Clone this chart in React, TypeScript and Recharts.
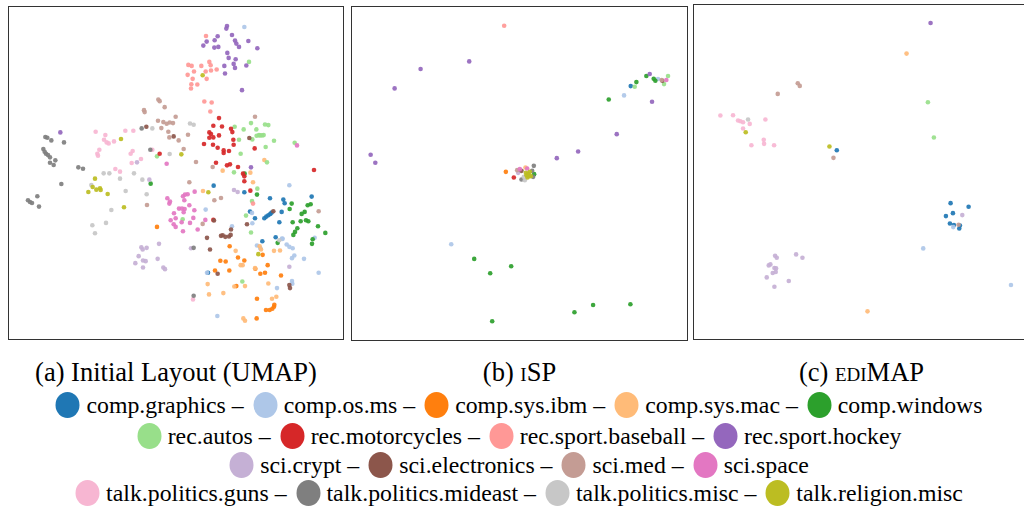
import { ScatterChart, Scatter, XAxis, YAxis } from "recharts"

// newsgroup categories, in legend order
const categories = [
  "comp.graphics", "comp.os.ms", "comp.sys.ibm", "comp.sys.mac", "comp.windows",
  "rec.autos", "rec.motorcycles", "rec.sport.baseball", "rec.sport.hockey",
  "sci.crypt", "sci.electronics", "sci.med", "sci.space",
  "talk.politics.guns", "talk.politics.mideast", "talk.politics.misc", "talk.religion.misc",
]

// tab20-style palette, one per category
const colors = [
  "#1f77b4", "#aec7e8", "#ff7f0e", "#ffbb78", "#2ca02c",
  "#98df8a", "#d62728", "#ff9896", "#9467bd",
  "#c5b0d5", "#8c564b", "#c49c94", "#e377c2",
  "#f7b6d2", "#7f7f7f", "#c7c7c7", "#bcbd22",
]

// legend rows (category indices)
const legendRows = [[0, 1, 2, 3, 4], [5, 6, 7, 8], [9, 10, 11, 12], [13, 14, 15, 16]]

type Pt = [number, number, number] // [category, x, y]

// (a) initial UMAP embedding
const umapPoints: Pt[] = [
  [0, 641, 558], [0, 733, 578], [0, 810, 596], [0, 850, 600], [0, 854, 611], [0, 935, 591], [0, 845, 637],
  [0, 765, 656], [0, 750, 636], [0, 793, 656], [0, 799, 651], [0, 805, 647], [0, 811, 643], [0, 815, 639],
  [0, 838, 668], [0, 787, 725], [0, 827, 713], [0, 624, 820],
  [1, 733, 81], [1, 868, 557], [1, 617, 630], [1, 756, 640], [1, 757, 671], [1, 696, 680], [1, 771, 738],
  [1, 781, 746], [1, 848, 718], [1, 860, 735], [1, 868, 742], [1, 878, 746], [1, 883, 768], [1, 876, 776],
  [1, 912, 778], [1, 944, 715], [1, 956, 820], [1, 831, 866], [1, 876, 845], [1, 877, 853], [1, 621, 820],
  [1, 652, 950], [1, 846, 717],
  [2, 471, 682], [2, 689, 740], [2, 714, 774], [2, 733, 783], [2, 661, 784], [2, 677, 786], [2, 688, 813],
  [2, 645, 813], [2, 766, 808], [2, 795, 820], [2, 781, 823], [2, 803, 797], [2, 843, 828], [2, 709, 860],
  [2, 771, 898], [2, 823, 916], [2, 822, 922], [2, 817, 928], [2, 798, 932], [2, 809, 932], [2, 770, 957],
  [2, 788, 766],
  [3, 793, 481], [3, 668, 513], [3, 751, 519], [3, 759, 548], [3, 609, 574], [3, 779, 740], [3, 783, 750],
  [3, 707, 754], [3, 822, 754], [3, 840, 753], [3, 722, 797], [3, 728, 797], [3, 765, 806], [3, 805, 852],
  [3, 623, 854], [3, 703, 861], [3, 735, 860], [3, 627, 885], [3, 670, 881], [3, 816, 898], [3, 829, 892],
  [3, 730, 957], [3, 735, 964],
  [4, 452, 552], [4, 771, 585], [4, 734, 522], [4, 875, 612], [4, 869, 628], [4, 923, 617], [4, 932, 614],
  [4, 914, 637], [4, 905, 643], [4, 878, 668], [4, 902, 665], [4, 918, 662], [4, 925, 665], [4, 892, 686],
  [4, 885, 697], [4, 880, 706], [4, 954, 680], [4, 976, 700], [4, 938, 719], [4, 936, 733], [4, 833, 730],
  [5, 747, 186], [5, 704, 381], [5, 731, 389], [5, 753, 370], [5, 769, 389], [5, 795, 374], [5, 805, 376],
  [5, 770, 408], [5, 777, 406], [5, 780, 407], [5, 786, 407], [5, 791, 406], [5, 757, 419], [5, 717, 420],
  [5, 822, 423], [5, 884, 429], [5, 797, 442], [5, 722, 462], [5, 801, 488], [5, 702, 518], [5, 772, 567],
  [5, 756, 604], [5, 738, 648], [5, 753, 699], [5, 727, 846], [5, 471, 470], [5, 548, 659],
  [6, 657, 355], [6, 640, 378], [6, 666, 380], [6, 693, 387], [6, 697, 397], [6, 628, 398], [6, 633, 403],
  [6, 628, 414], [6, 640, 413], [6, 657, 407], [6, 612, 433], [6, 639, 435], [6, 653, 444], [6, 671, 452],
  [6, 671, 460], [6, 687, 454], [6, 700, 420], [6, 701, 435], [6, 764, 446], [6, 648, 489], [6, 681, 497],
  [6, 690, 494], [6, 714, 502], [6, 729, 522], [6, 733, 530], [6, 733, 545], [6, 751, 573], [6, 942, 511],
  [6, 479, 462], [6, 640, 661],
  [7, 618, 108], [7, 628, 186], [7, 632, 196], [7, 633, 212], [7, 565, 195], [7, 575, 198], [7, 604, 198],
  [7, 582, 215], [7, 617, 215], [7, 650, 209], [7, 563, 225], [7, 578, 237], [7, 620, 237], [7, 574, 253],
  [7, 592, 254], [7, 573, 266], [7, 613, 305], [7, 635, 308], [7, 631, 335], [7, 759, 612],
  [8, 681, 78], [8, 679, 86], [8, 696, 105], [8, 653, 109], [8, 644, 121], [8, 620, 125], [8, 610, 137],
  [8, 643, 143], [8, 655, 141], [8, 705, 122], [8, 709, 131], [8, 717, 141], [8, 745, 123], [8, 772, 145],
  [8, 682, 159], [8, 686, 174], [8, 707, 178], [8, 701, 192], [8, 705, 204], [8, 673, 198], [8, 675, 221],
  [8, 739, 197], [8, 726, 271], [8, 753, 503], [8, 181, 398],
  [9, 411, 488], [9, 448, 540], [9, 424, 743], [9, 428, 750], [9, 440, 745], [9, 477, 733], [9, 416, 770],
  [9, 429, 783], [9, 437, 785], [9, 406, 791], [9, 429, 804], [9, 473, 778], [9, 490, 804], [9, 495, 809],
  [9, 702, 571], [9, 713, 577], [9, 573, 746], [9, 868, 802],
  [10, 439, 381], [10, 521, 410], [10, 748, 415], [10, 642, 663], [10, 621, 715], [10, 630, 750],
  [10, 663, 709], [10, 668, 707], [10, 676, 712], [10, 687, 711], [10, 692, 706], [10, 693, 690],
  [10, 653, 823], [10, 868, 857], [10, 870, 866], [10, 820, 635], [10, 741, 674],
  [11, 475, 299], [11, 479, 304], [11, 494, 322], [11, 432, 331], [11, 434, 337], [11, 474, 363],
  [11, 490, 367], [11, 500, 372], [11, 509, 368], [11, 519, 370], [11, 527, 351], [11, 484, 385],
  [11, 505, 396], [11, 508, 413], [11, 536, 422], [11, 564, 405], [11, 551, 448], [11, 588, 487],
  [11, 638, 502], [11, 765, 351], [11, 568, 548], [11, 643, 602], [11, 663, 595], [11, 441, 616],
  [11, 956, 635], [11, 608, 673],
  [12, 502, 596], [12, 510, 606], [12, 508, 612], [12, 522, 641], [12, 527, 656], [12, 512, 662],
  [12, 521, 674], [12, 527, 682], [12, 549, 590], [12, 555, 585], [12, 563, 584], [12, 553, 602],
  [12, 584, 576], [12, 537, 627], [12, 546, 627], [12, 554, 628], [12, 568, 617], [12, 551, 638],
  [12, 583, 632], [12, 545, 668], [12, 580, 655], [12, 593, 690], [12, 549, 695], [12, 570, 670],
  [12, 500, 492], [12, 891, 437], [12, 616, 661],
  [13, 287, 396], [13, 316, 406], [13, 312, 420], [13, 320, 428], [13, 326, 431], [13, 342, 425],
  [13, 376, 393], [13, 400, 393], [13, 298, 450], [13, 292, 462], [13, 294, 468], [13, 398, 454],
  [13, 392, 462], [13, 423, 478], [13, 395, 490], [13, 346, 508], [13, 360, 516], [13, 457, 450],
  [13, 579, 900],
  [14, 136, 412], [14, 142, 414], [14, 154, 422], [14, 192, 428], [14, 130, 448], [14, 134, 456],
  [14, 138, 462], [14, 144, 466], [14, 150, 473], [14, 166, 482], [14, 150, 489], [14, 161, 496],
  [14, 235, 503], [14, 249, 507], [14, 184, 553], [14, 84, 602], [14, 90, 607], [14, 96, 610],
  [14, 112, 590], [14, 117, 621], [14, 425, 386], [14, 451, 450], [14, 581, 745], [14, 581, 889],
  [15, 457, 386], [15, 509, 463], [15, 570, 371], [15, 581, 375], [15, 311, 521], [15, 328, 521],
  [15, 360, 537], [15, 402, 521], [15, 427, 540], [15, 274, 556], [15, 377, 574], [15, 440, 584],
  [15, 334, 631], [15, 318, 670], [15, 277, 677], [15, 285, 701], [15, 838, 722],
  [16, 363, 418], [16, 608, 226], [16, 544, 464], [16, 285, 537], [16, 278, 562], [16, 289, 570],
  [16, 300, 566], [16, 302, 571], [16, 265, 577], [16, 323, 583], [16, 372, 623], [16, 625, 578],
  [16, 775, 764],
]

// (b) iSP layout
const ispPoints: Pt[] = [
  [7, 478, 77],
  [8, 373, 184], [8, 227, 207], [8, 149, 265], [8, 77, 464], [8, 91, 488], [8, 636, 474], [8, 700, 454],
  [8, 816, 402], [8, 922, 305], [8, 915, 222],
  [4, 792, 298], [4, 875, 246], [4, 905, 228], [4, 927, 236], [4, 932, 242], [4, 388, 776], [4, 436, 819],
  [4, 499, 798], [4, 442, 963], [4, 689, 936], [4, 745, 914], [4, 857, 912], [4, 568, 522],
  [0, 858, 258],
  [5, 870, 260], [5, 970, 228], [5, 958, 252],
  [1, 838, 286], [1, 940, 237], [1, 319, 732],
  [11, 951, 240], [11, 517, 510],
  [10, 953, 242], [10, 530, 512],
  [12, 965, 240], [12, 525, 507], [12, 547, 505],
  [2, 483, 515],
  [6, 507, 532],
  [9, 520, 518],
  [3, 542, 502],
  [14, 567, 497], [14, 562, 512], [14, 530, 538], [14, 565, 530],
  [15, 540, 540], [15, 537, 530],
  [16, 545, 525], [16, 550, 520], [16, 555, 515], [16, 548, 532], [16, 558, 528], [16, 543, 518],
  [16, 552, 528],
]

// (c) EDIMAP layout
const edimapPoints: Pt[] = [
  [8, 722, 70],
  [3, 650, 162], [3, 533, 936],
  [11, 324, 251], [11, 330, 259], [11, 264, 283], [11, 431, 475], [11, 806, 676],
  [5, 714, 308], [5, 732, 414],
  [13, 92, 348], [13, 130, 347], [13, 145, 363], [13, 152, 365], [13, 160, 368], [13, 180, 373],
  [13, 160, 387], [13, 227, 360], [13, 222, 421], [13, 223, 433], [13, 185, 437], [13, 253, 437],
  [15, 175, 360],
  [16, 168, 398], [16, 419, 441],
  [0, 441, 452], [0, 782, 611], [0, 836, 622], [0, 789, 641], [0, 768, 650], [0, 780, 672], [0, 792, 677],
  [0, 808, 687], [0, 810, 678],
  [9, 817, 647], [9, 256, 769], [9, 261, 775], [9, 319, 765], [9, 338, 775], [9, 237, 798], [9, 242, 795],
  [9, 254, 806], [9, 259, 807], [9, 249, 821], [9, 258, 818], [9, 231, 834], [9, 297, 845], [9, 254, 862],
  [1, 790, 683], [1, 700, 747], [1, 963, 857],
]

const FONT = '"Liberation Serif", "Times New Roman", Times, serif'

type PanelProps = {
  points: Pt[]
  left: number
  top: number
  width: number
  height: number
  xDomain: [number, number]
  yDomain: [number, number]
}

function Panel({ points, left, top, width, height, xDomain, yDomain }: PanelProps) {
  const groups = categories.map((_, c) =>
    points.filter((p) => p[0] === c).map((p) => ({ x: p[1], y: p[2] }))
  )
  return (
    <div style={{ position: "absolute", left, top, width, height }}>
      <ScatterChart width={width} height={height} margin={{ top: 0, right: 0, bottom: 0, left: 0 }}>
        <XAxis type="number" dataKey="x" domain={xDomain} hide allowDataOverflow />
        <YAxis type="number" dataKey="y" domain={yDomain} hide reversed allowDataOverflow />
        {groups.map((g, c) => (
          <Scatter
            key={c}
            data={g}
            fill={colors[c]}
            isAnimationActive={false}
            shape={(p: any) => <circle cx={p.cx} cy={p.cy} r={2.3} fill={colors[c]} fillOpacity={0.92} />}
          />
        ))}
      </ScatterChart>
      <div
        style={{
          position: "absolute", left: 0, top: 0, width, height,
          boxSizing: "border-box", border: "1.5px solid #333", pointerEvents: "none",
        }}
      />
    </div>
  )
}

function Caption({ left, width, children }: { left: number; width: number; children: any }) {
  return (
    <div
      style={{
        position: "absolute", left, top: 356, width, textAlign: "center",
        fontFamily: FONT, fontSize: 26.5, lineHeight: "32px", color: "#000", whiteSpace: "nowrap",
      }}
    >
      {children}
    </div>
  )
}

const rowTops = [391, 422, 451, 479]

export default function App() {
  return (
    <div style={{ position: "absolute", left: 0, top: 0, width: 1024, height: 509, overflow: "hidden", background: "#fff" }}>
      <Panel points={umapPoints} left={8} top={6} width={336} height={334} xDomain={[24, 1032]} yDomain={[18, 1022]} />
      <Panel points={ispPoints} left={351} top={6} width={337} height={335} xDomain={[18, 1030]} yDomain={[18, 1022]} />
      <Panel points={edimapPoints} left={693} top={4} width={337} height={336} xDomain={[10, 1020]} yDomain={[13, 1022]} />

      <Caption left={8} width={336}>(a) Initial Layout (UMAP)</Caption>
      <Caption left={351} width={337}>
        (b) <span style={{ fontVariant: "small-caps" }}>iSP</span>
      </Caption>
      <Caption left={693} width={337}>
        (c) <span style={{ fontVariant: "small-caps" }}>ediMAP</span>
      </Caption>

      {legendRows.map((row, r) => (
        <div
          key={r}
          style={{
            position: "absolute", left: 0, top: rowTops[r], width: 1038, height: 28,
            display: "flex", justifyContent: "center", alignItems: "center",
            fontFamily: FONT, fontSize: 23.8, color: "#000", whiteSpace: "pre",
          }}
        >
          {row.map((c, i) => (
            <div key={c} style={{ display: "flex", alignItems: "center" }}>
              <svg width={25} height={28} style={{ marginRight: 6 }}>
                <ellipse cx={12.5} cy={14} rx={12} ry={13} fill={colors[c]} />
              </svg>
              <span style={{ marginRight: i < row.length - 1 ? 3 : 0 }}>
                {categories[c] + (i < row.length - 1 ? " – " : "")}
              </span>
            </div>
          ))}
        </div>
      ))}
    </div>
  )
}
